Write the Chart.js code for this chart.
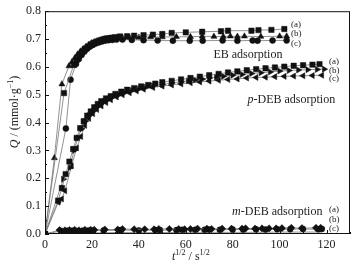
<!DOCTYPE html>
<html><head><meta charset="utf-8">
<script src="https://cdn.jsdelivr.net/npm/chart.js@4/dist/chart.umd.min.js"></script>
<style>html,body{margin:0;padding:0;background:#fff}#wrap{width:357px;height:262px;position:relative}</style>
</head><body><div id="wrap"><canvas id="c"></canvas></div>
<script>
// ---- data (t^1/2 in s^1/2, Q in mmol/g) ----
const ebA_t = [0, 8.1, 12.3, 13.5, 14.6, 15.8, 17, 18.2, 19.4, 20.6, 21.8, 23, 24.3, 25.6, 27, 28.5, 30, 32, 35, 38, 42, 46, 50, 54, 60, 67, 75, 78, 88, 91, 96.5, 102];
const ebA_q = [0, 0.506, 0.607, 0.625, 0.64, 0.652, 0.663, 0.672, 0.68, 0.686, 0.69, 0.694, 0.698, 0.701, 0.703, 0.705, 0.707, 0.709, 0.71, 0.712, 0.714, 0.716, 0.718, 0.722, 0.724, 0.726, 0.728, 0.73, 0.73, 0.732, 0.733, 0.736];
const ebB_t = [0, 4.0, 7.2, 10.2, 11.5, 12.7, 13.9, 15.1, 16.3, 17.5, 18.8, 20, 21.3, 22.6, 24, 25.4, 27, 28.7, 30.5, 33, 36, 40, 45, 50, 56, 62, 67, 72, 76, 79, 82, 85, 92, 100, 103];
const ebB_q = [0, 0.273, 0.538, 0.603, 0.618, 0.632, 0.645, 0.656, 0.665, 0.673, 0.68, 0.686, 0.69, 0.694, 0.697, 0.7, 0.702, 0.703, 0.704, 0.705, 0.706, 0.706, 0.707, 0.707, 0.708, 0.708, 0.71, 0.709, 0.709, 0.71, 0.709, 0.71, 0.709, 0.71, 0.71];
const ebC_t = [0, 8.9, 10.9, 13.2, 14.4, 15.6, 16.8, 18, 19.2, 20.4, 21.6, 22.9, 24.2, 25.6, 27.1, 28.7, 30.5, 33, 37, 42, 48, 54.5, 61.7, 67.2, 75.7, 82, 88.5, 90.6, 97, 103];
const ebC_q = [0, 0.379, 0.554, 0.61, 0.628, 0.643, 0.655, 0.665, 0.673, 0.679, 0.684, 0.688, 0.691, 0.694, 0.696, 0.697, 0.698, 0.698, 0.697, 0.696, 0.695, 0.694, 0.694, 0.694, 0.695, 0.694, 0.695, 0.694, 0.695, 0.695];

const pA_t = [0, 5.6, 7.2, 8.8, 10.4, 12, 13.5, 15, 16.5, 18, 19.5, 21, 22.5, 24, 26, 28, 30, 32.5, 35, 38, 41, 44, 47, 50, 54, 58, 62, 66, 70, 74, 78, 82, 86, 90, 94, 98, 102, 106, 110, 114, 117];
const pA_q = [0, 0.12, 0.165, 0.215, 0.26, 0.305, 0.345, 0.38, 0.405, 0.425, 0.44, 0.455, 0.467, 0.477, 0.487, 0.495, 0.503, 0.511, 0.518, 0.524, 0.53, 0.535, 0.54, 0.545, 0.55, 0.555, 0.56, 0.565, 0.57, 0.575, 0.58, 0.584, 0.588, 0.592, 0.595, 0.598, 0.601, 0.604, 0.606, 0.608, 0.61];
const pB_t = [0, 7.8, 10.6, 12.4, 14, 15.6, 17.2, 18.8, 20.4, 22, 23.6, 25.4, 27.2, 29, 31.5, 34, 37, 40, 43, 46, 50, 54, 58, 61, 64, 67, 70, 73, 76, 80, 84, 88, 92, 96, 100, 104, 108, 112, 116, 119];
const pB_q = [0, 0.197, 0.238, 0.3, 0.345, 0.378, 0.405, 0.425, 0.44, 0.455, 0.466, 0.476, 0.485, 0.493, 0.5, 0.508, 0.515, 0.521, 0.527, 0.532, 0.537, 0.542, 0.546, 0.55, 0.553, 0.556, 0.56, 0.563, 0.566, 0.57, 0.573, 0.576, 0.579, 0.582, 0.585, 0.587, 0.589, 0.59, 0.591, 0.592];
const pC_t = [0, 5.7, 7.1, 8.5, 11.3, 13.5, 15.3, 17, 18.7, 20.4, 22.1, 24, 26, 28, 30.5, 33, 36, 39, 42, 46, 50, 54, 58, 62, 66, 70, 74, 78, 82, 86, 90, 94, 98, 102, 106, 110, 114, 118];
const pC_q = [0, 0.114, 0.126, 0.155, 0.244, 0.309, 0.35, 0.39, 0.415, 0.432, 0.447, 0.46, 0.472, 0.482, 0.492, 0.5, 0.507, 0.514, 0.52, 0.526, 0.531, 0.535, 0.539, 0.543, 0.546, 0.549, 0.552, 0.555, 0.557, 0.56, 0.562, 0.563, 0.565, 0.566, 0.567, 0.568, 0.569, 0.57];

const mA_t = [0, 6.2, 8.5, 10.4, 12.6, 14.5, 17, 19.5, 21, 25.5, 31, 33, 38, 42.5, 46.5, 48.5, 53, 57, 59.5, 62, 65, 69, 71, 75.5, 79.5, 84, 85.5, 89.5, 92.5, 95.5, 98.5, 101, 105, 109.5, 115.5, 117.5];
const mA_q = [0, 0.014, 0.013, 0.014, 0.015, 0.013, 0.015, 0.015, 0.015, 0.016, 0.016, 0.018, 0.017, 0.017, 0.017, 0.018, 0.018, 0.018, 0.017, 0.018, 0.019, 0.019, 0.018, 0.019, 0.019, 0.019, 0.02, 0.019, 0.02, 0.02, 0.02, 0.021, 0.022, 0.021, 0.022, 0.022];
const mB_t = [0, 7, 9.5, 11.5, 13.5, 16, 18.5, 20.5, 25, 31.5, 32.5, 40, 47, 49, 56, 58.5, 64, 68, 70, 74.5, 80, 84.5, 90, 94, 99, 104.5, 110, 116.5, 118];
const mB_q = [0, 0.011, 0.012, 0.012, 0.011, 0.012, 0.013, 0.012, 0.013, 0.013, 0.014, 0.013, 0.014, 0.014, 0.014, 0.015, 0.015, 0.015, 0.016, 0.015, 0.016, 0.016, 0.017, 0.016, 0.017, 0.017, 0.018, 0.017, 0.018];
const mC_t = [0, 10, 20, 30, 40, 50, 60, 70, 80, 90, 100, 110, 118];
const mC_q = [0, 0.004, 0.004, 0.005, 0.005, 0.005, 0.006, 0.006, 0.006, 0.006, 0.007, 0.007, 0.007];

const xTicks = [0, 20, 40, 60, 80, 100, 120];
const yTicks = [0.0, 0.1, 0.2, 0.3, 0.4, 0.5, 0.6, 0.7, 0.8];

const pts = (t, q) => t.map((v, i) => ({x: v, y: q[i]}));
function ds(t, q, style, r, rot) {
  return {data: pts(t, q), showLine: true, borderColor: '#777', borderWidth: 0.8,
    pointStyle: style, pointRadius: r, pointRotation: rot || 0,
    pointBackgroundColor: '#111', pointBorderColor: '#111', pointBorderWidth: 0.5};
}
const datasets = [
  ds(ebA_t, ebA_q, 'rect', 3.8), ds(ebB_t, ebB_q, 'triangle', 3.5), ds(ebC_t, ebC_q, 'circle', 3),
  ds(pA_t, pA_q, 'rect', 3.8), ds(pB_t, pB_q, 'triangle', 3.5, 90), ds(pC_t, pC_q, 'triangle', 3.5, -90),
  ds(mA_t, mA_q, 'rectRot', 3.6), ds(mB_t, mB_q, 'circle', 3), ds(mC_t, mC_q, 'circle', 0)
];

const SERIF = '"Liberation Serif", "DejaVu Serif", serif';
const overlay = {
  id: 'overlay',
  afterDraw(chart) {
    const {ctx, chartArea: a, scales: {x, y}} = chart;
    ctx.save();
    ctx.strokeStyle = '#111'; ctx.lineWidth = 1;
    ctx.strokeRect(a.left + 0.5, a.top + 0.5, a.right - a.left - 1, a.bottom - a.top - 1);
    ctx.beginPath();
    for (let v = 0; v <= 130; v += 10) {
      const px = Math.round(x.getPixelForValue(v)) + 0.5;
      const len = (v % 20 === 0) ? 4 : 2;
      ctx.moveTo(px, a.bottom); ctx.lineTo(px, a.bottom - len);
    }
    for (let k = 0; k <= 16; k++) {
      const v = k * 0.05;
      const py = Math.round(y.getPixelForValue(v)) + 0.5;
      const len = (k % 2 === 0) ? 4 : 2;
      ctx.moveTo(a.left, py); ctx.lineTo(a.left + len, py);
    }
    ctx.stroke();
    ctx.fillStyle = '#222';
    // annotations
    ctx.font = '12px ' + SERIF; ctx.textBaseline = 'middle'; ctx.textAlign = 'center';
    ctx.fillText('EB adsorption', x.getPixelForValue(86.5), y.getPixelForValue(0.643));
    function mixed(parts, cx, cy) {
      let w = 0;
      parts.forEach(p => { ctx.font = p[1]; w += ctx.measureText(p[0]).width; });
      let px = cx - w / 2;
      ctx.textAlign = 'left';
      parts.forEach(p => { ctx.font = p[1]; ctx.fillText(p[0], px, cy + (p[2] || 0)); px += ctx.measureText(p[0]).width; });
    }
    mixed([['p', 'italic 12px ' + SERIF], ['-DEB adsorption', '12px ' + SERIF]], x.getPixelForValue(105), y.getPixelForValue(0.48));
    mixed([['m', 'italic 12px ' + SERIF], ['-DEB adsorption', '12px ' + SERIF]], x.getPixelForValue(99), y.getPixelForValue(0.081));
    ctx.font = '9px ' + SERIF; ctx.textAlign = 'left';
    const lab = [['(a)', 291, 25], ['(b)', 291, 34], ['(c)', 291, 44], ['(a)', 329, 62], ['(b)', 329, 70.5], ['(c)', 329, 79], ['(a)', 329, 210], ['(b)', 329, 219.5], ['(c)', 329, 229]];
    lab.forEach(l => ctx.fillText(l[0], l[1], l[2]));
    // x title
    ctx.textBaseline = 'alphabetic';
    const tx = 172, ty = 260;
    let px = tx;
    const seg = (s, f, dy) => { ctx.font = f; ctx.fillText(s, px, ty + dy); px += ctx.measureText(s).width; };
    seg('t', 'italic 12px ' + SERIF, 0);
    seg('1/2', '8px ' + SERIF, -5);
    seg(' / s', '12px ' + SERIF, 0);
    seg('1/2', '8px ' + SERIF, -5);
    // y title
    ctx.save();
    ctx.translate(18, 112); ctx.rotate(-Math.PI / 2);
    const parts = [['Q', 'italic 12px ' + SERIF, 0], [' / (mmol·g', '12px ' + SERIF, 0], ['−1', '8px ' + SERIF, -5], [')', '12px ' + SERIF, 0]];
    let w = 0; parts.forEach(p => { ctx.font = p[1]; w += ctx.measureText(p[0]).width; });
    px = -w / 2;
    parts.forEach(p => { ctx.font = p[1]; ctx.fillText(p[0], px, p[2]); px += ctx.measureText(p[0]).width; });
    ctx.restore();
    ctx.restore();
  }
};

new Chart(document.getElementById('c'), {
  type: 'scatter',
  data: {datasets},
  options: {
    responsive: true, maintainAspectRatio: false, animation: false,
    layout: {padding: {top: 8, right: 7, left: 0, bottom: 0}},
    plugins: {legend: {display: false}, tooltip: {enabled: false}},
    scales: {
      x: {type: 'linear', min: 0, max: 130,
        grid: {display: false, drawTicks: false}, border: {display: false},
        afterBuildTicks: s => { s.ticks = xTicks.map(v => ({value: v})); },
        afterFit: s => { s.height = 28; },
        ticks: {padding: 4, color: '#222', font: {family: SERIF, size: 12}, maxRotation: 0, callback: v => String(v)}},
      y: {type: 'linear', min: 0, max: 0.8,
        grid: {display: false, drawTicks: false}, border: {display: false},
        afterBuildTicks: s => { s.ticks = yTicks.map(v => ({value: v})); },
        afterFit: s => { s.width = 45; },
        ticks: {padding: 4, color: '#222', font: {family: SERIF, size: 12}, callback: v => Number(v).toFixed(1)}}
    }
  },
  plugins: [overlay]
});
</script></body></html>
